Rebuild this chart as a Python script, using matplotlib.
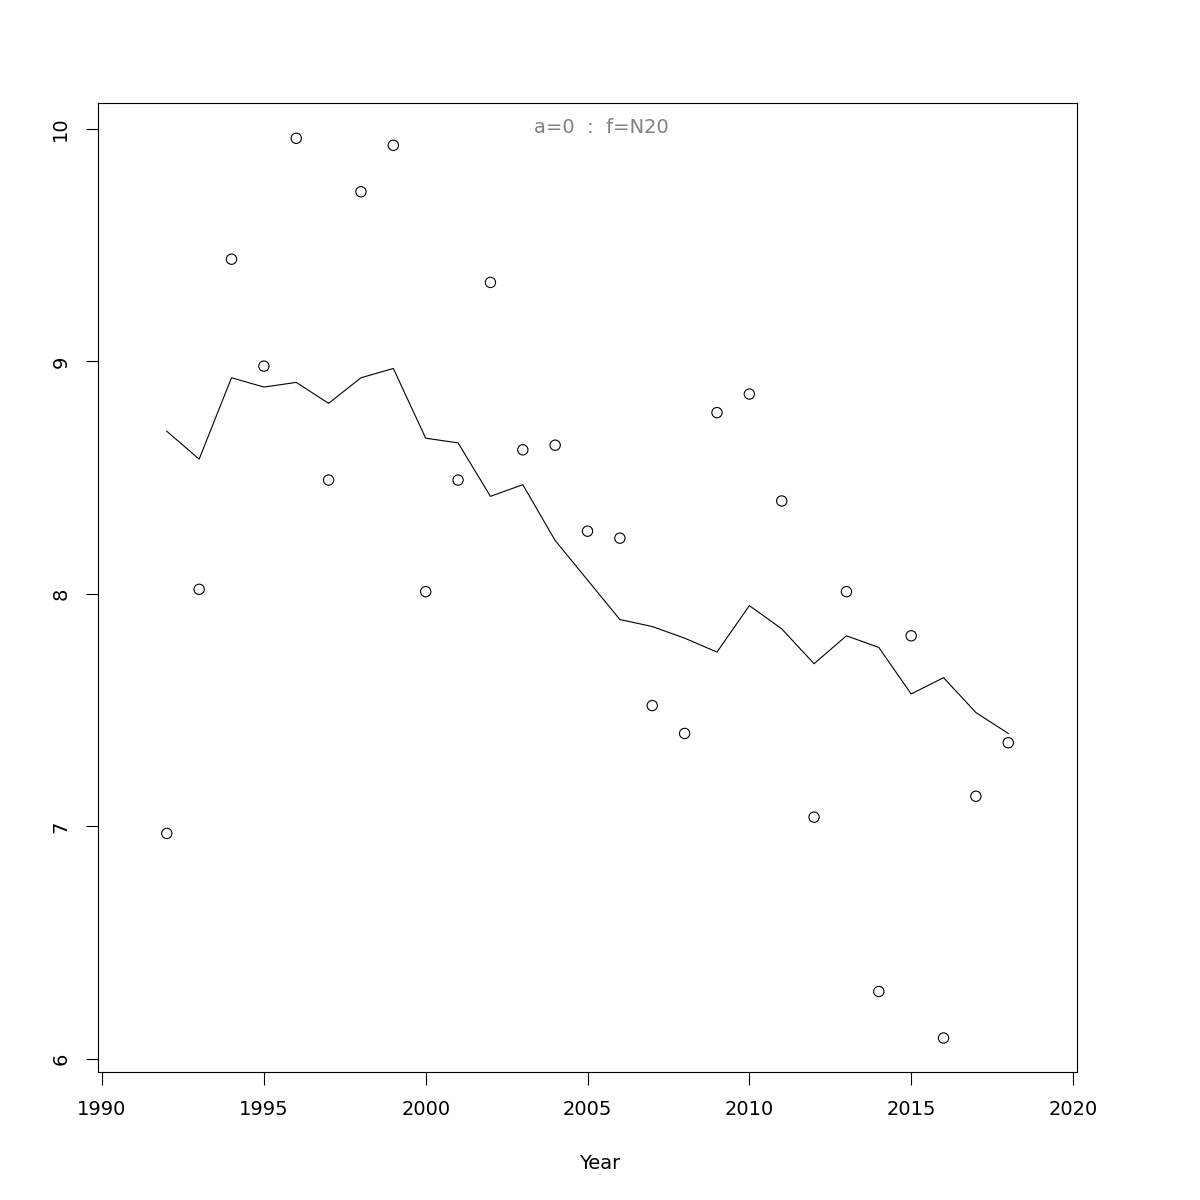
import matplotlib.pyplot as plt

years = list(range(1992, 2019))
observed = [6.97, 8.02, 9.44, 8.98, 9.96, 8.49, 9.73, 9.93, 8.01, 8.49,
            9.34, 8.62, 8.64, 8.27, 8.24, 7.52, 7.40, 8.78, 8.86, 8.40,
            7.04, 8.01, 6.29, 7.82, 6.09, 7.13, 7.36]
smoothed = [8.70, 8.58, 8.93, 8.89, 8.91, 8.82, 8.93, 8.97, 8.67, 8.65,
            8.42, 8.47, 8.23, 8.06, 7.89, 7.86, 7.81, 7.75, 7.95, 7.85,
            7.70, 7.82, 7.77, 7.57, 7.64, 7.49, 7.40]
xticks = [1990, 1995, 2000, 2005, 2010, 2015, 2020]
yticks = [6, 7, 8, 9, 10]

fig = plt.figure(figsize=(12, 12), dpi=100)
ax = fig.add_axes([0.0817, 0.1067, 0.8158, 0.8075])

# points and fitted line
ax.scatter(years, observed, s=55, facecolors='none', edgecolors='black', linewidths=0.8)
ax.plot(years, smoothed, c='black', linewidth=0.8)

ax.set_xlim(1989.876, 2020.124)
ax.set_ylim(5.944, 10.112)
ax.set_xticks(xticks)
ax.set_yticks(yticks)
ax.set_yticklabels([str(v) for v in yticks], rotation=90, va='center')
ax.tick_params(axis='both', labelsize=14, length=9, width=0.8, pad=11)
for s in ax.spines.values():
    s.set_linewidth(0.8)

ax.set_xlabel('Year', fontsize=14)
ax.xaxis.set_label_coords((600 - 98) / 979, -(1162 - 1071) / 968)
ax.xaxis.label.set_va('center')
ax.text((601 - 98) / 979, 0.975, 'a=0  :  f=N20', transform=ax.transAxes, ha='center', va='center',
        fontsize=14, color='gray')

fig.savefig('out.png')
